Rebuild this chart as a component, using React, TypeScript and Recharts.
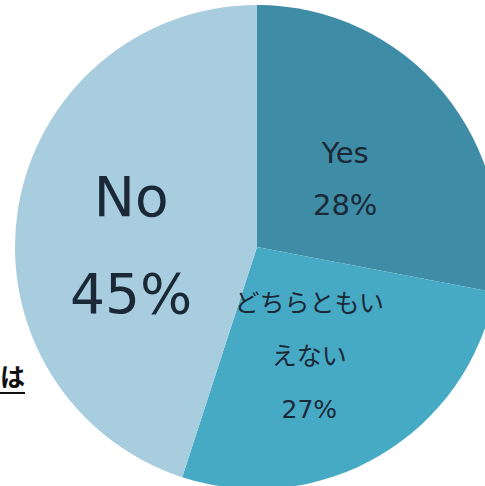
import React from 'react';
import { PieChart, Pie, Cell } from 'recharts';

const categories = ['Yes', 'どちらともいえない', 'No'];
const values = [28, 27, 45];
const labelLines: string[][] = [
  ['Yes', '28%'],
  ['どちらともい', 'えない', '27%'],
  ['No', '45%'],
];
const colors = ['#3f8ca6', '#47aac5', '#a7cddf'];

const data = categories.map((name, i) => ({ name, value: values[i] }));

const RAD = Math.PI / 180;
const FONT = '"DejaVu Sans", "Noto Sans CJK JP", sans-serif';

const renderLabel = (props: any) => {
  const { cx, cy, midAngle, outerRadius, index } = props;
  const cfg = [
    { r: 0.46, a: -2, size: 29, gap: 52, dy: 0 },
    { r: 0.5, a: -5, size: 25, gap: 53, dy: 0 },
    { r: 0.52, a: 8.5, size: 55, gap: 97, dy: 0 },
  ][index];
  const ang = (midAngle + cfg.a) * RAD;
  const x = cx + outerRadius * cfg.r * Math.cos(ang);
  const y = cy - outerRadius * cfg.r * Math.sin(ang);
  const lines = labelLines[index];
  const total = (lines.length - 1) * cfg.gap;
  return (
    <text
      x={x}
      y={y}
      textAnchor="middle"
      dominantBaseline="central"
      fill="#1b2836"
      fontFamily={FONT}
      fontSize={cfg.size}
    >
      {lines.map((l, i) => (
        <tspan key={i} x={x} y={y - total / 2 + i * cfg.gap} dominantBaseline="central">
          {l}
        </tspan>
      ))}
    </text>
  );
};

export default function App() {
  return (
    <div style={{ position: 'absolute', left: 0, top: 0, width: 485, height: 486, background: '#fff', overflow: 'hidden' }}>
      <PieChart width={485} height={486} margin={{ top: 0, right: 0, bottom: 0, left: 0 }}>
        <Pie
          data={data}
          dataKey="value"
          nameKey="name"
          cx={257}
          cy={247}
          outerRadius={242}
          startAngle={90}
          endAngle={-270}
          stroke="none"
          label={renderLabel}
          labelLine={false}
          isAnimationActive={false}
        >
          {data.map((d, i) => (
            <Cell key={d.name} fill={colors[i]} />
          ))}
        </Pie>
      </PieChart>
      <div
        style={{
          position: 'absolute',
          left: 0,
          top: 360,
          fontFamily: '"Noto Sans CJK JP", sans-serif',
          fontSize: 25,
          fontWeight: 700,
          lineHeight: '30px',
          color: '#111',
          textDecoration: 'underline',
          textUnderlineOffset: 6,
        }}
      >
        は
      </div>
    </div>
  );
}
